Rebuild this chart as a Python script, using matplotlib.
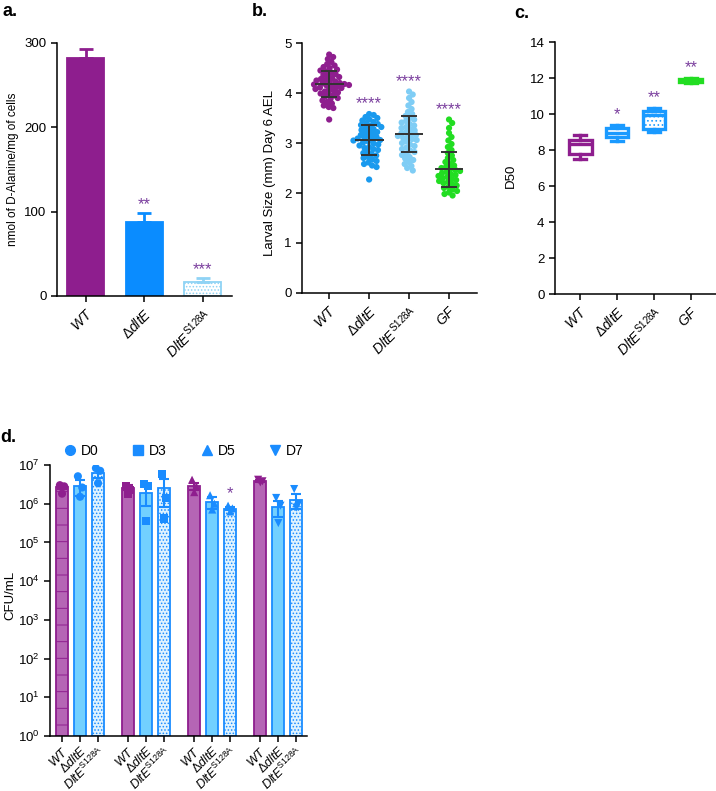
"""Four-panel figure: D-alanine content, larval size, D50 and CFU counts."""

import matplotlib

matplotlib.use("Agg")
import matplotlib.pyplot as plt
import numpy as np
from matplotlib.lines import Line2D

plt.rcParams.update({
    "font.family": ["Liberation Sans", "DejaVu Sans"],
    "font.size": 10,
    "mathtext.fontset": "custom",
    "mathtext.rm": "Liberation Sans",
    "mathtext.it": "Liberation Sans:italic",
    "mathtext.bf": "Liberation Sans:bold",
    "axes.linewidth": 1.1,
    "xtick.major.width": 1.1,
    "ytick.major.width": 1.1,
    "xtick.major.size": 4,
    "ytick.major.size": 4,
    "hatch.linewidth": 0.7,
})

PURPLE = "#8e1e8e"
PURPLE_LIGHT = "#b565b5"
BLUE = "#1a8cff"
BLUE_LIGHT = "#72d0ff"
BLUE_PALE = "#8fd3f5"
GREEN = "#22dd22"
STAR = "#7b3f9e"

LAB_WT = r"$\mathit{WT}$"
LAB_DLTE = r"$\Delta\mathit{dltE}$"
LAB_S128 = r"$\mathit{DltE}^{\mathrm{S128A}}$"
LAB_GF = r"$\mathit{GF}$"

# ---- panel a: D-alanine content
strains_a = [LAB_WT, LAB_DLTE, LAB_S128]
dala_mean = [282, 88, 17]
dala_sem = [11, 10, 4]
dala_stars = ["", "**", "***"]

# ---- panel b: larval size (mm), day 6 AEL
strains_b = [LAB_WT, LAB_DLTE, LAB_S128, LAB_GF]
size_wt = [4.77, 4.72, 4.68, 4.62, 4.58, 4.55, 4.52, 4.50, 4.47, 4.45, 4.43,
           4.41, 4.38, 4.36, 4.34, 4.32, 4.30, 4.28, 4.26, 4.25, 4.23, 4.22,
           4.20, 4.19, 4.18, 4.17, 4.16, 4.15, 4.14, 4.12, 4.11, 4.10, 4.08,
           4.07, 4.05, 4.03, 4.01, 3.99, 3.97, 3.95, 3.93, 3.90, 3.88, 3.85,
           3.82, 3.79, 3.75, 3.72, 3.70, 3.47]
size_dlte = [3.58, 3.56, 3.52, 3.50, 3.47, 3.45, 3.42, 3.40, 3.38, 3.36, 3.34,
             3.32, 3.30, 3.28, 3.26, 3.24, 3.22, 3.20, 3.18, 3.16, 3.14, 3.12,
             3.10, 3.09, 3.08, 3.06, 3.05, 3.03, 3.01, 2.99, 2.97, 2.95, 2.92,
             2.90, 2.88, 2.86, 2.83, 2.80, 2.78, 2.75, 2.72, 2.70, 2.67, 2.64,
             2.61, 2.58, 2.55, 2.52, 2.27]
size_s128 = [4.03, 3.97, 3.90, 3.82, 3.75, 3.68, 3.62, 3.58, 3.54, 3.50, 3.47,
             3.44, 3.41, 3.38, 3.35, 3.32, 3.30, 3.27, 3.25, 3.22, 3.20, 3.18,
             3.16, 3.14, 3.12, 3.10, 3.08, 3.06, 3.03, 3.00, 2.97, 2.94, 2.91,
             2.88, 2.85, 2.82, 2.79, 2.76, 2.72, 2.69, 2.66, 2.62, 2.58, 2.54,
             2.50, 2.45]
size_gf = [3.47, 3.40, 3.30, 3.20, 3.12, 3.05, 2.98, 2.92, 2.86, 2.80, 2.75,
           2.70, 2.66, 2.62, 2.58, 2.55, 2.52, 2.50, 2.48, 2.46, 2.44, 2.42,
           2.40, 2.38, 2.36, 2.34, 2.32, 2.30, 2.28, 2.26, 2.24, 2.22, 2.20,
           2.18, 2.15, 2.12, 2.10, 2.07, 2.04, 2.01, 1.98, 1.95]
size_mean = [4.18, 3.07, 3.18, 2.48]
size_sd = [0.26, 0.30, 0.36, 0.35]
size_stars = ["", "****", "****", "****"]

# ---- panel c: D50 box plots
strains_c = [LAB_WT, LAB_DLTE, LAB_S128, LAB_GF]
d50_min = [7.5, 8.5, 9.0, 11.75]
d50_q1 = [7.8, 8.75, 9.15, 11.8]
d50_med = [8.35, 8.95, 9.95, 11.9]
d50_q3 = [8.55, 9.25, 10.15, 11.95]
d50_max = [8.85, 9.4, 10.35, 12.0]
d50_stars = ["", "*", "**", "**"]

# ---- panel d: CFU/mL over days
days = ["D0", "D3", "D5", "D7"]
strains_d = [LAB_WT, LAB_DLTE, LAB_S128]
cfu_mean = [[2.7e6, 2.8e6, 6.2e6],
            [2.6e6, 1.9e6, 2.6e6],
            [2.8e6, 1.1e6, 0.75e6],
            [3.8e6, 0.8e6, 1.25e6]]
cfu_sem = [[0.3e6, 1.2e6, 1.5e6],
           [0.4e6, 1.0e6, 1.8e6],
           [0.6e6, 0.35e6, 0.08e6],
           [0.2e6, 0.35e6, 0.5e6]]
cfu_log_points = [[[6.48, 6.45, 6.26], [6.71, 6.42, 6.18], [6.92, 6.85, 6.53]],
                  [[6.45, 6.36, 6.26], [6.50, 6.45, 5.55], [6.77, 6.15, 5.62]],
                  [[6.62, 6.45, 6.30], [6.22, 6.00, 5.85], [5.95, 5.88, 5.80]],
                  [[6.62, 6.58, 6.55], [6.15, 5.95, 5.50], [6.38, 6.00, 5.90]]]
cfu_stars = [["", "", ""], ["", "", ""], ["", "", "*"], ["", "", ""]]
day_markers = ["o", "s", "^", "v"]


def style_axes(ax):
    for side in ("top", "right"):
        ax.spines[side].set_visible(False)
    ax.tick_params(direction="out", labelsize=9.5, colors="black")


def set_cat_labels(ax, positions, labels, size=10):
    ax.set_xticks(positions)
    ax.set_xticklabels(labels, rotation=45, ha="right", rotation_mode="anchor",
                       fontsize=size)


def swarm_offsets(values, px_per_y, px_per_x, diam):
    """Beeswarm: place each point at the smallest |x| that avoids overlap."""
    vals = np.asarray(values, dtype=float)
    ypx = vals * px_per_y
    order = np.argsort(-vals)
    placed = []
    xs = np.zeros(len(vals))
    for i in order:
        cands = [0.0]
        for (px, py) in placed:
            dy = ypx[i] - py
            if abs(dy) < diam:
                dx = np.sqrt(diam ** 2 - dy ** 2)
                cands += [px + dx, px - dx]
        cands.sort(key=abs)
        for c in cands:
            ok = all((c - px) ** 2 + (ypx[i] - py) ** 2 >= diam ** 2 - 1e-6
                     for (px, py) in placed)
            if ok:
                xs[i] = c
                placed.append((c, ypx[i]))
                break
    return xs / px_per_x


fig = plt.figure(figsize=(7.16, 7.91), dpi=100)

# ======================= panel a
ax = fig.add_axes([0.0796, 0.6258, 0.2444, 0.320])
style_axes(ax)
xa = np.arange(len(strains_a))
faces_a = [PURPLE, "#0a8cff", "white"]
edges_a = [PURPLE, "#0a8cff", BLUE_PALE]
hatch_a = [None, None, "....."]
for x, m, e, fc, ec, h, st in zip(xa, dala_mean, dala_sem, faces_a, edges_a,
                                  hatch_a, dala_stars):
    ax.bar(x, m, width=0.63, color=fc, edgecolor=ec, hatch=h, linewidth=1.3,
           zorder=2)
    ax.errorbar(x, m, yerr=[[0], [e]], color=ec, capsize=5, capthick=2,
                elinewidth=2, zorder=3)
    if st:
        ax.annotate(st, (x, m + e), xytext=(0, 1), textcoords="offset points",
                    ha="center", va="bottom", color=STAR, fontsize=12)
ax.set_xlim(-0.49, 2.5)
ax.set_ylim(0, 300)
ax.set_yticks([0, 100, 200, 300])
set_cat_labels(ax, xa, strains_a)
ax.set_ylabel("nmol of D-Alanine/mg of cells", fontsize=8.5)
ax.yaxis.set_label_coords(-0.215, 0.5)

# ======================= panel b
ax = fig.add_axes([0.4218, 0.6296, 0.2444, 0.3160])
style_axes(ax)
xb = np.arange(len(strains_b))
colors_b = [PURPLE, "#1a9aee", "#7fcdf5", GREEN]
groups_b = [size_wt, size_dlte, size_s128, size_gf]
for x, vals, c, m, sd, st in zip(xb, groups_b, colors_b, size_mean, size_sd,
                                 size_stars):
    off = swarm_offsets(vals, 50.0, 40.0, 4.7)
    ax.scatter(x + off, vals, s=20, color=c, edgecolors="none", zorder=2)
    ax.hlines(m, x - 0.36, x + 0.36, color="#333333", lw=1.4, zorder=3)
    ax.errorbar(x, m, yerr=sd, color="#333333", capsize=6, capthick=1.4,
                elinewidth=1.4, zorder=3)
    if st:
        ax.annotate(st, (x, max(vals)), xytext=(0, 2),
                    textcoords="offset points", ha="center", va="bottom",
                    color=STAR, fontsize=12)
ax.set_xlim(-0.68, 3.7)
ax.set_ylim(0, 5)
ax.set_yticks([0, 1, 2, 3, 4, 5])
set_cat_labels(ax, xb, strains_b)
ax.set_ylabel("Larval Size (mm) Day 6 AEL", fontsize=9.5)
ax.yaxis.set_label_coords(-0.15, 0.48)

# ======================= panel c
ax = fig.add_axes([0.7751, 0.6283, 0.2249, 0.3186])
style_axes(ax)
xc = np.arange(len(strains_c))
stats = [dict(whislo=lo, q1=q1, med=md, q3=q3, whishi=hi, fliers=[])
         for lo, q1, md, q3, hi in zip(d50_min, d50_q1, d50_med, d50_q3, d50_max)]
bp = ax.bxp(stats, positions=xc, widths=0.62, patch_artist=True,
            showfliers=False, manage_ticks=False)
colors_c = [PURPLE, "#1a9aff", "#1a9aff", GREEN]
faces_c = ["white", "white", "white", GREEN]
hatch_c = [None, None, "....", None]
for i, c in enumerate(colors_c):
    bp["boxes"][i].set(facecolor=faces_c[i], edgecolor=c, linewidth=2.4,
                       hatch=hatch_c[i])
    bp["medians"][i].set(color=c, linewidth=2.4)
    for j in (2 * i, 2 * i + 1):
        bp["whiskers"][j].set(color=c, linewidth=2.4)
        bp["caps"][j].set(color=c, linewidth=2.4)
for x, hi, st in zip(xc, d50_max, d50_stars):
    if st:
        ax.annotate(st, (x, hi), xytext=(0, 2), textcoords="offset points",
                    ha="center", va="bottom", color=STAR, fontsize=12)
ax.set_xlim(-0.68, 3.68)
ax.set_ylim(0, 14)
ax.set_yticks(range(0, 15, 2))
set_cat_labels(ax, xc, strains_c)
ax.set_ylabel("D50", fontsize=9.5)
ax.yaxis.set_label_coords(-0.236, 0.47)

# ======================= panel d
ax = fig.add_axes([0.0698, 0.0695, 0.3589, 0.3426])
style_axes(ax)
ax.set_yscale("log")
faces_d = [PURPLE_LIGHT, BLUE_LIGHT, "#dff3ff"]
edges_d = [PURPLE, BLUE, BLUE]
pt_colors = [PURPLE, BLUE, BLUE]
jitter = [-0.12, 0.12, 0.0]
group_step = 3.67
xpos, xlabels = [], []
for g, day in enumerate(days):
    for j in range(len(strains_d)):
        x = g * group_step + j
        xpos.append(x)
        xlabels.append(strains_d[j])
        hatch = None
        if j == 2:
            hatch = "....."
        elif j == 0 and g == 0:
            hatch = "-"
        ax.bar(x, cfu_mean[g][j], width=0.65, bottom=1, color=faces_d[j],
               edgecolor=edges_d[j], hatch=hatch, linewidth=1.3, zorder=2)
        ax.errorbar(x, cfu_mean[g][j], yerr=cfu_sem[g][j], color=edges_d[j],
                    capsize=3.5, capthick=1.5, elinewidth=1.5, zorder=3)
        pts = 10 ** np.asarray(cfu_log_points[g][j])
        ax.scatter(x + np.asarray(jitter), pts, marker=day_markers[g], s=34,
                   color=pt_colors[j], edgecolors="none", zorder=4)
        if cfu_stars[g][j]:
            ax.annotate(cfu_stars[g][j], (x, pts.max()), xytext=(0, 3),
                        textcoords="offset points", ha="center", va="bottom",
                        color=STAR, fontsize=12)
ax.set_xlim(-0.67, 13.6)
ax.set_ylim(1, 1e7)
ax.set_yticks([10.0 ** k for k in range(8)])
ax.yaxis.set_minor_locator(matplotlib.ticker.NullLocator())
set_cat_labels(ax, xpos, xlabels, size=9)
ax.tick_params(axis="x", pad=2)
ax.set_ylabel("CFU/mL", fontsize=9.5)
ax.yaxis.set_label_coords(-0.13, 0.52)
handles = [Line2D([], [], marker=m, linestyle="none", color=BLUE, markersize=7)
           for m in day_markers]
ax.legend(handles, days, ncol=4, frameon=False, loc="center left",
          bbox_to_anchor=(0.055, 1.052), handlelength=0.8, handletextpad=0.4,
          columnspacing=2.45, borderaxespad=0, borderpad=0, fontsize=10)

# panel letters
for letter, fx, fy in [("a.", 0.003, 0.985), ("b.", 0.352, 0.985),
                       ("c.", 0.718, 0.983), ("d.", 0.0, 0.447)]:
    fig.text(fx, fy, letter, fontsize=13, fontweight="bold", va="center")

fig.savefig("out.png", dpi=100)
plt.close(fig)
